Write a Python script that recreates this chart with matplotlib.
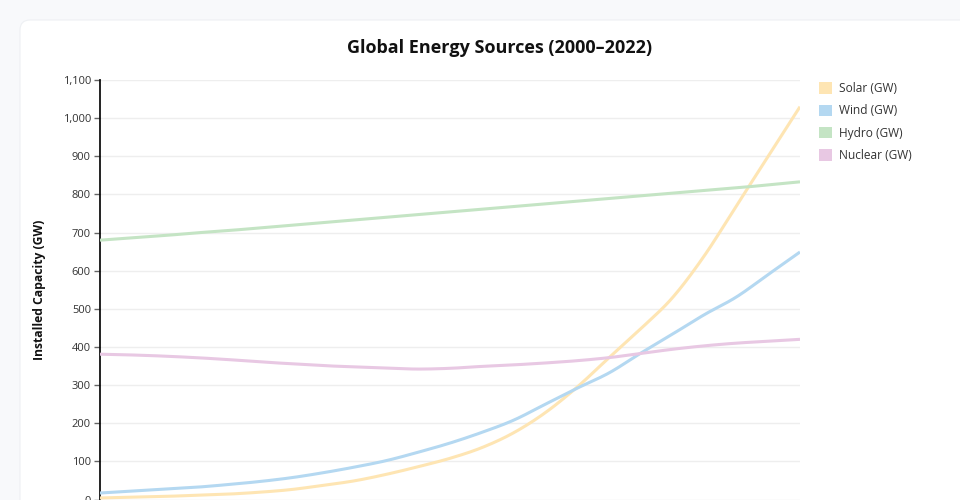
import numpy as np
import matplotlib.pyplot as plt
from matplotlib.patches import FancyBboxPatch, Patch
from matplotlib.ticker import FuncFormatter, MultipleLocator

plt.rcParams['font.family'] = ['Open Sans', 'DejaVu Sans']

# Data (GW per year).
years = list(range(2000, 2023))
solar = [4, 6, 8, 11, 14, 19, 26, 37, 49, 66, 86, 108, 136, 175, 228, 295, 372, 448, 530, 640, 770, 900, 1030]
wind = [17, 22, 27, 32, 39, 47, 57, 70, 85, 102, 124, 148, 176, 208, 250, 292, 332, 384, 434, 485, 531, 590, 649]
hydro = [680, 686, 692, 699, 705, 712, 719, 726, 733, 740, 747, 754, 761, 768, 775, 782, 789, 796, 803, 810, 817, 825, 833]
nuclear = [381, 379, 376, 372, 367, 361, 356, 351, 348, 345, 342, 344, 349, 353, 358, 364, 372, 383, 394, 403, 410, 415, 420]

series_names = ['Solar (GW)', 'Wind (GW)', 'Hydro (GW)', 'Nuclear (GW)']
series_colors = ['#fee5b3', '#b4d8f1', '#c4e4c4', '#e8c8e3']


def monotone(x, y, n=30):
    # monotone cubic curve through the points, like d3's curveMonotoneX
    x = np.asarray(x, float)
    y = np.asarray(y, float)
    h = np.diff(x)
    s = np.diff(y) / h
    m = np.zeros_like(y)
    for i in range(1, len(y) - 1):
        if s[i - 1] * s[i] <= 0:
            m[i] = 0
        else:
            p = (s[i - 1] * h[i] + s[i] * h[i - 1]) / (h[i - 1] + h[i])
            m[i] = np.sign(p) * min(abs(p), 2 * min(abs(s[i - 1]), abs(s[i])))
    m[0] = (3 * s[0] - m[1]) / 2
    m[-1] = (3 * s[-1] - m[-2]) / 2
    xs, ys = [], []
    for i in range(len(h)):
        t = np.linspace(0, 1, n, endpoint=False)
        h00 = 2 * t**3 - 3 * t**2 + 1
        h10 = t**3 - 2 * t**2 + t
        h01 = -2 * t**3 + 3 * t**2
        h11 = t**3 - t**2
        xs.append(x[i] + t * h[i])
        ys.append(h00 * y[i] + h10 * h[i] * m[i] + h01 * y[i + 1] + h11 * h[i] * m[i + 1])
    xs.append([x[-1]])
    ys.append([y[-1]])
    return np.concatenate(xs), np.concatenate(ys)


fig = plt.figure(figsize=(9.6, 5.0), dpi=100)
fig.patch.set_facecolor('#f8f9fb')

# white card behind the chart
card = FancyBboxPatch((0.2, -0.5), 10.0, 5.3, boxstyle='round,pad=0,rounding_size=0.1',
                      transform=fig.dpi_scale_trans, facecolor='white', edgecolor='#eef0f3',
                      linewidth=0.8, zorder=-5)
fig.patches.append(card)

ax = fig.add_axes([100 / 960, 0.001, 700 / 960, 419.5 / 500])
ax.set_facecolor('none')

for name, vals, col in zip(series_names, [solar, wind, hydro, nuclear], series_colors):
    xs, ys = monotone(years, vals)
    ax.plot(xs, ys, color=col, lw=2.2, solid_capstyle='butt', label=name, zorder=3)

ax.set_xlim(2000, 2022)
ax.set_ylim(0, 1100)
ax.yaxis.set_major_locator(MultipleLocator(100))
ax.yaxis.set_major_formatter(FuncFormatter(lambda v, p: f'{int(v):,}'))
ax.grid(axis='y', color='#eeeeee', lw=1)
ax.set_axisbelow(True)
for side in ['top', 'right', 'bottom']:
    ax.spines[side].set_visible(False)
ax.spines['left'].set_color('#111111')
ax.spines['left'].set_linewidth(1.3)
ax.tick_params(axis='y', length=4.5, width=1, color='#666666', labelsize=8,
               labelcolor='#333333', pad=2)
ax.tick_params(axis='x', bottom=False, labelbottom=False)

ax.set_ylabel('Installed Capacity (GW)', fontsize=8.7, fontweight='bold',
              color='#111111', labelpad=12)
fig.suptitle('Global Energy Sources (2000–2022)', x=500 / 960, y=1 - 48 / 500, va='center',
             fontsize=13, fontweight='bold', color='#111111')

handles = [Patch(facecolor=c, edgecolor='none') for c in series_colors]
fig.legend(handles, series_names, loc='upper left', bbox_to_anchor=(819 / 960, 1 - 82 / 500),
           frameon=False, fontsize=8.6, handlelength=1.1, handleheight=1.1,
           handletextpad=0.55, labelspacing=0.78, borderaxespad=0, borderpad=0,
           labelcolor='#333333')

fig.savefig('out.png', dpi=100, facecolor=fig.get_facecolor())
